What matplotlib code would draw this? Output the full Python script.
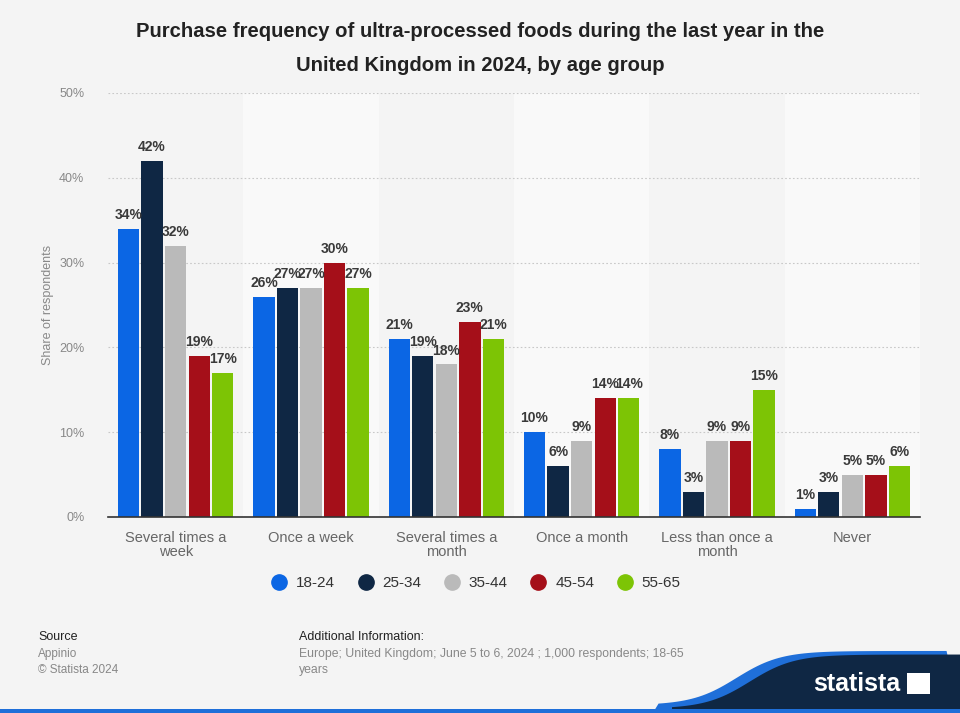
"""
Purchase frequency of ultra-processed foods, UK 2024, by age group.
Statista-style grouped bar chart.
"""
import matplotlib
matplotlib.use("Agg")
import matplotlib.pyplot as plt
from matplotlib.patches import Polygon, Rectangle
from matplotlib.lines import Line2D
import numpy as np

plt.rcParams["font.family"] = ["Liberation Sans", "DejaVu Sans"]

# Data
categories = ["Several times a\nweek", "Once a week", "Several times a\nmonth",
              "Once a month", "Less than once a\nmonth", "Never"]
age_groups = ["18-24", "25-34", "35-44", "45-54", "55-65"]
share_18_24 = [34, 26, 21, 10, 8, 1]
share_25_34 = [42, 27, 19, 6, 3, 3]
share_35_44 = [32, 27, 18, 9, 9, 5]
share_45_54 = [19, 30, 23, 14, 9, 5]
share_55_65 = [17, 27, 21, 14, 15, 6]
y_ticks = [0, 10, 20, 30, 40, 50]

# Style
COLORS = ["#0b66e4", "#0f2744", "#bababa", "#a50f19", "#7dc405"]
BG = "#f4f4f4"
BAND = "#f9f9f9"
TEXT_DARK = "#3a3a3a"
TEXT_GRAY = "#666666"
BAR_W = 0.158
BAR_STEP = 0.174

fig = plt.figure(figsize=(9.6, 7.13), dpi=100, facecolor=BG)
ax = fig.add_axes([0.1125, 0.2749, 0.8458, 0.5947])
ax.set_facecolor(BG)

x = np.arange(len(categories))
series = [share_18_24, share_25_34, share_35_44, share_45_54, share_55_65]

# alternating background bands
for i in x:
    if i % 2 == 1:
        ax.axvspan(i - 0.5, i + 0.5, color=BAND, zorder=0, lw=0)

for k, (vals, col) in enumerate(zip(series, COLORS)):
    offset = (k - 2) * BAR_STEP
    bars = ax.bar(x + offset, vals, width=BAR_W, color=col, zorder=3,
                  label=age_groups[k])
    for b, v in zip(bars, vals):
        ax.text(b.get_x() + b.get_width() / 2, v + 0.8, f"{v}%",
                ha="center", va="bottom", fontsize=10, fontweight="bold",
                color=TEXT_DARK, zorder=4)

ax.set_xlim(-0.5, len(categories) - 0.5)
ax.set_ylim(0, 50)
ax.set_yticks(y_ticks)
ax.set_yticklabels([f"{t}%" for t in y_ticks], fontsize=9, color="#888888")
ax.set_xticks(x)
ax.set_xticklabels(categories, fontsize=10.5, color=TEXT_GRAY, linespacing=1.05)
ax.tick_params(axis="both", length=0)
ax.tick_params(axis="y", pad=17)
ax.tick_params(axis="x", pad=10)
ax.grid(axis="y", color="#c8c8c8", linestyle=(0, (1.5, 2)), linewidth=0.8, zorder=1)
for s in ["top", "right", "left"]:
    ax.spines[s].set_visible(False)
ax.spines["bottom"].set_color("#333333")
ax.spines["bottom"].set_linewidth(1.2)
ax.spines["bottom"].set_zorder(5)
ax.set_ylabel("Share of respondents", fontsize=9, color="#888888")
ax.yaxis.set_label_coords(-0.066, 0.5)

# Title
fig.text(0.5, 0.932, "Purchase frequency of ultra-processed foods during the last year in the\n"
         "United Kingdom in 2024, by age group", ha="center", va="center",
         fontsize=14.6, fontweight="bold", color="#222222", linespacing=1.95)

# Legend
handles = [Line2D([0], [0], marker="o", color="none", markerfacecolor=c,
                  markeredgecolor=c, markersize=11) for c in COLORS]
fig.legend(handles, age_groups, loc="center", bbox_to_anchor=(0.496, 0.182),
           ncol=5, frameon=False, fontsize=11, labelcolor="#333333",
           handlelength=1.0, handletextpad=0.6, columnspacing=1.5)

# Footer
fig.text(0.040, 0.102, "Source", fontsize=9, color="#222222")
fig.text(0.040, 0.079, "Appinio", fontsize=8.5, color="#888888")
fig.text(0.040, 0.056, "© Statista 2024", fontsize=8.5, color="#888888")
fig.text(0.311, 0.102, "Additional Information:", fontsize=9, color="#222222")
fig.text(0.311, 0.079, "Europe; United Kingdom; June 5 to 6, 2024 ; 1,000 respondents; 18-65",
         fontsize=8.8, color="#888888")
fig.text(0.311, 0.056, "years", fontsize=8.8, color="#888888")

# statista wave and logo
t = np.linspace(0, 1, 80)
wave_x = 0.70 + 0.30 * t
wave_y = 0.006 + 0.076 * (1 / (1 + np.exp(-(t - 0.27) * 13)))
blue_pts = [(0.68, 0.0)] + list(zip(wave_x - 0.014, wave_y + 0.005)) + [(1.0, 0.0)]
fig.patches.append(Polygon(blue_pts, closed=True, transform=fig.transFigure,
                           facecolor="#1f6fd9", edgecolor="none", zorder=1))
navy_pts = [(0.70, 0.0)] + list(zip(wave_x, wave_y)) + [(1.0, 0.0)]
fig.patches.append(Polygon(navy_pts, closed=True, transform=fig.transFigure,
                           facecolor="#0f2744", edgecolor="none", zorder=2))
fig.patches.append(Rectangle((0, 0), 1, 0.006, transform=fig.transFigure,
                             facecolor="#1f6fd9", edgecolor="none", zorder=3))
fig.text(0.938, 0.040, "statista", ha="right", va="center", fontsize=18,
         fontweight="bold", color="white", zorder=4)
fig.patches.append(Rectangle((0.945, 0.027), 0.024, 0.029, transform=fig.transFigure,
                             facecolor="white", edgecolor="none", zorder=4))

fig.savefig("out.png", dpi=100, facecolor=BG)
plt.close(fig)
